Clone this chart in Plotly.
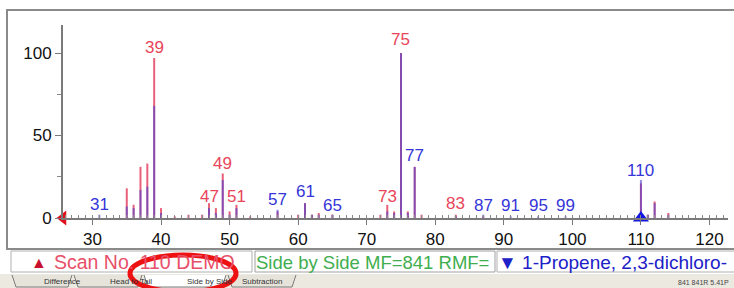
import plotly.graph_objects as go

W, H = 734, 288

# ---- data ----
scan_mz = [35, 36, 37, 38, 39, 40, 42, 44, 46, 47, 48, 49, 50, 51, 53, 57, 60, 61, 62, 63, 65,
           72, 73, 74, 75, 76, 77, 78, 83, 87, 110, 111, 112, 114]
scan_int = [18, 8, 31, 33, 97, 6, 1, 2, 2, 9, 6, 27, 4, 8, 1, 4, 2, 9, 2, 3, 2,
            2, 8, 4, 100, 4, 31, 2, 2, 1, 21, 2, 10, 3]
lib_mz = [31, 35, 36, 37, 38, 39, 40, 47, 48, 49, 50, 51, 57, 61, 62, 63, 65,
          73, 74, 75, 76, 77, 83, 87, 91, 95, 99, 110, 111, 112, 114]
lib_int = [2, 7, 6, 17, 19, 68, 3, 6, 3, 23, 2, 6, 5, 9, 2, 2, 2,
           4, 3, 100, 3, 31, 1, 2, 1, 1, 1, 23, 2, 9, 2]

label_mz = [31, 39, 47, 49, 51, 57, 61, 65, 73, 75, 77, 83, 87, 91, 95, 99, 110]
label_side = ["lib", "scan", "scan", "scan", "scan", "lib", "lib", "lib", "scan", "scan",
              "lib", "scan", "lib", "lib", "lib", "lib", "lib"]
label_y = [8, 103.5, 13.3, 33.3, 13.3, 11, 15.8, 7.3, 13.3, 108, 38, 9, 7.3, 7.3, 7.3, 7.3, 29]

x_ticks = [30, 40, 50, 60, 70, 80, 90, 100, 110, 120]
y_ticks = [0, 50, 100]
mol_weight = 110
x_range = [25.7, 122.7]
y_range = [0, 117]

tab_names = ["Difference", "Head to Tail", "Side by Side", "Subtraction"]

RED = "#e8455a"
BLUE = "#3535d8"
GREEN = "#3fae4f"


def stems(mz, inten):
    xs, ys = [], []
    for m, v in zip(mz, inten):
        xs += [m, m, None]
        ys += [0, v, None]
    return xs, ys


fig = go.Figure()
sx, sy = stems(scan_mz, scan_int)
fig.add_trace(go.Scatter(x=sx, y=sy, mode="lines", line=dict(color="#e8607a", width=2),
                         hoverinfo="skip", showlegend=False))
lx, ly = stems(lib_mz, lib_int)
fig.add_trace(go.Scatter(x=lx, y=ly, mode="lines", line=dict(color="rgba(70,60,210,0.6)", width=2),
                         hoverinfo="skip", showlegend=False))

# markers: scan origin (red, left) and library molecular weight (blue, up)
fig.add_trace(go.Scatter(x=[x_range[0]], y=[0], mode="markers",
                         marker=dict(symbol="triangle-left", color="#e0101e", size=13),
                         cliponaxis=False, hoverinfo="skip", showlegend=False))
fig.add_trace(go.Scatter(x=[mol_weight], y=[0], mode="markers",
                         marker=dict(symbol="triangle-up", color="#1515e0", size=14),
                         cliponaxis=False, hoverinfo="skip", showlegend=False))

for m, side, yy in zip(label_mz, label_side, label_y):
    fig.add_annotation(x=m, y=yy, text=str(m), showarrow=False, xanchor="center", yanchor="middle",
                       font=dict(size=17, color=RED if side == "scan" else BLUE,
                                 family="Liberation Sans, Arial"))


def px(x):
    return x / W


def py(y):
    return 1 - y / H


shapes = []
# outer frame of the spectrum panel
shapes.append(dict(type="rect", xref="paper", yref="paper", x0=px(7), x1=px(736), y0=py(249), y1=py(10),
                   line=dict(color="#8a8a8a", width=2), layer="below"))
# status boxes
shapes.append(dict(type="rect", xref="paper", yref="paper", x0=px(11), x1=px(252), y0=py(272), y1=py(251),
                   line=dict(color="#b0b0b0", width=1), fillcolor="#ffffff"))
shapes.append(dict(type="rect", xref="paper", yref="paper", x0=px(255), x1=px(495), y0=py(272), y1=py(251),
                   line=dict(color="#a0a0a0", width=1), fillcolor="#ffffff"))
shapes.append(dict(type="rect", xref="paper", yref="paper", x0=px(497), x1=px(736), y0=py(272), y1=py(251),
                   line=dict(color="#b0b0b0", width=1), fillcolor="#ffffff"))
# tab strip
shapes.append(dict(type="rect", xref="paper", yref="paper", x0=0, x1=1, y0=0, y1=py(274),
                   line=dict(width=0), fillcolor="#ece9e0"))
tab_bounds = [(12, 72), (74, 142), (144, 226), (228, 296)]
for i, (a, b) in enumerate(tab_bounds):
    shapes.append(dict(type="path", xref="paper", yref="paper",
                       path=f"M {px(a)},{py(275)} L {px(a + 4)},{py(287)} L {px(b - 4)},{py(287)} L {px(b)},{py(275)}",
                       line=dict(color="#7a7a7a", width=1),
                       fillcolor="#ffffff" if i == 2 else "#e6e3da"))
# red highlight ellipse
shapes.append(dict(type="circle", xref="paper", yref="paper", x0=px(130), x1=px(236), y0=py(292), y1=py(255),
                   line=dict(color="#ee1111", width=5)))
fig.update_layout(shapes=shapes)

fig.add_annotation(xref="paper", yref="paper", x=px(29), y=py(262), text="▲", showarrow=False,
                   yanchor="middle", font=dict(size=16, color="#c8102e"))
fig.add_annotation(xref="paper", yref="paper", x=px(52), y=py(262), xanchor="left", yanchor="middle",
                   text="Scan No. 110 DEMO", showarrow=False,
                   font=dict(size=19.5, color="#e8506a", family="Liberation Sans, Arial"))
fig.add_annotation(xref="paper", yref="paper", x=px(254), y=py(262), xanchor="left", yanchor="middle",
                   text="Side by Side MF=841 RMF=", showarrow=False,
                   font=dict(size=18.5, color=GREEN, family="Liberation Sans, Arial"))
fig.add_annotation(xref="paper", yref="paper", x=px(496), y=py(262), xanchor="left", yanchor="middle",
                   text="▼ 1-Propene, 2,3-dichloro-", showarrow=False,
                   font=dict(size=19, color="#2020c8", family="Liberation Sans, Arial"))

for t, (a, b) in zip(tab_names, tab_bounds):
    fig.add_annotation(xref="paper", yref="paper", x=px((a + b) / 2), y=py(281), text=t, showarrow=False,
                       yanchor="middle",
                       font=dict(size=8, color="#333333", family="Liberation Sans, Arial"))
fig.add_annotation(xref="paper", yref="paper", x=px(731), y=py(282), xanchor="right", yanchor="middle",
                   text="841 841R 5.41P", showarrow=False,
                   font=dict(size=7, color="#444444", family="Liberation Sans, Arial"))

fig.update_layout(
    width=W, height=H,
    margin=dict(l=0, r=0, t=0, b=0),
    paper_bgcolor="white", plot_bgcolor="white",
    font=dict(family="Liberation Sans, Arial", size=17, color="#111111"),
    xaxis=dict(domain=[63 / W, 728 / W], range=x_range, showgrid=False, zeroline=False,
               automargin=False,
               showline=True, linecolor="#7a7a7a", linewidth=2,
               tickmode="array", tickvals=x_ticks, ticks="outside", ticklen=5,
               tickcolor="#7a7a7a", tickfont=dict(size=17),
               minor=dict(dtick=1, ticks="inside", ticklen=3, tickcolor="#8a8a8a", showgrid=False)),
    yaxis=dict(domain=[(H - 218) / H, (H - 25) / H], range=y_range, showgrid=False, zeroline=False,
               automargin=False,
               showline=True, linecolor="#7a7a7a", linewidth=2,
               tickmode="array", tickvals=y_ticks, ticks="outside", ticklen=6,
               tickcolor="#7a7a7a", tickfont=dict(size=17),
               minor=dict(dtick=25, ticks="outside", ticklen=4, tickcolor="#8a8a8a", showgrid=False)),
)

fig.write_html("out.html", config={"displayModeBar": False},
               post_script="document.body.style.margin='0';document.body.style.overflow='hidden';")
